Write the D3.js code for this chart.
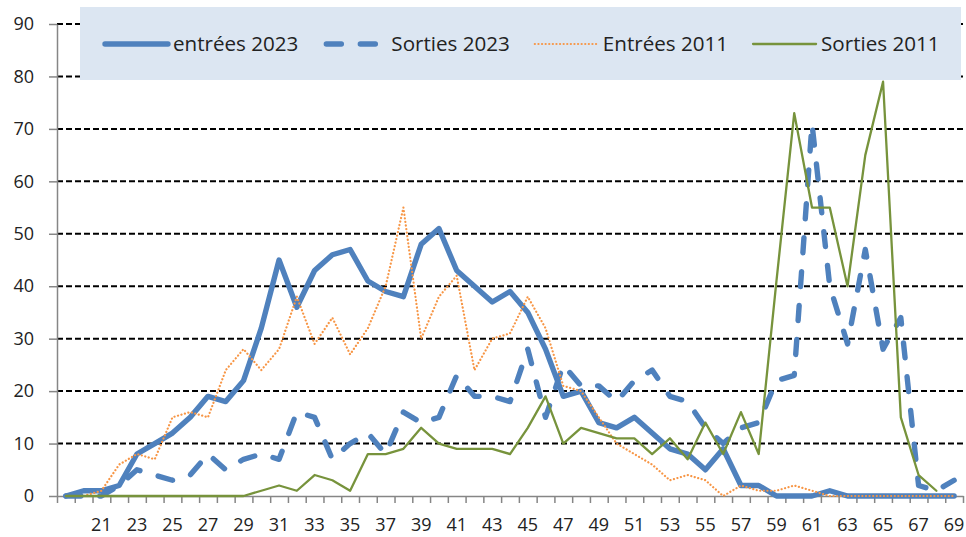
<!DOCTYPE html>
<html><head><meta charset="utf-8">
<script src="https://cdn.jsdelivr.net/npm/d3@7"></script>
<style>
html,body{margin:0;padding:0;background:#fff;}
svg{display:block;}
text{font-family:"Open Sans",sans-serif;fill:#222;}
</style></head>
<body>
<svg id="chart" width="966" height="537"></svg>
<script>
const ages = [19,20,21,22,23,24,25,26,27,28,29,30,31,32,33,34,35,36,37,38,39,40,41,42,43,44,45,46,47,48,49,50,51,52,53,54,55,56,57,58,59,60,61,62,63,64,65,66,67,68,69];
const xTickLabels = [21,23,25,27,29,31,33,35,37,39,41,43,45,47,49,51,53,55,57,59,61,63,65,67,69];
const yTicks = [0,10,20,30,40,50,60,70,80,90];

const entrees2023 = [0,1,1,2,8,10,12,15,19,18,22,32,45,36,43,46,47,41,39,38,48,51,43,40,37,39,35,28,19,20,14,13,15,12,9,8,5,9,2,2,0,0,0,1,0,0,0,0,0,0,0];
const sorties2023 = [0,0,0,2,5,4,3,4,8,5,7,8,7,16,15,7,10,12,8,16,14,15,23,19,19,18,28,15,25,21,21,18,22,24,19,18,13,10,13,14,22,23,71,40,29,47,28,34,2,1,3];
const entrees2011 = [0,0,1,6,8,7,15,16,15,24,28,24,28,38,29,34,27,32,40,55,30,38,42,24,30,31,38,32,21,20,15,10,8,6,3,4,3,0,2,1,1,2,1,0,0,0,0,0,0,0,0];
const sorties2011 = [0,0,0,0,0,0,0,0,0,0,0,1,2,1,4,3,1,8,8,9,13,10,9,9,9,8,13,19,10,13,12,11,11,8,11,7,14,8,16,8,41,73,55,55,40,65,79,15,4,1,null];

const seriesNames = ["entrées 2023","Sorties 2023","Entrées 2011","Sorties 2011"];
const seriesValues = [entrees2023, sorties2023, entrees2011, sorties2011];
const seriesStyles = [
  {color:"#4f81bd", width:5.4, dash:null, cap:"round"},
  {color:"#4f81bd", width:5.4, dash:"15,19", cap:"round"},
  {color:"#f79646", width:2.2, dash:"0.1,3.5", cap:"round"},
  {color:"#77933c", width:2.3, dash:null, cap:"round"}
];

const svg = d3.select("#chart");
const L = 57, R = 963, T = 24, B = 496;

const x = d3.scaleBand().domain(ages).range([L, R]).paddingInner(0).paddingOuter(0);
const xc = d => x(d) + x.bandwidth()/2;
const xIdx = d3.scaleLinear().domain([0, ages.length]).range([L, R]);
const y = d3.scaleLinear().domain([0, 90]).range([B, T]);

// gridlines
svg.append("g").selectAll("line").data(yTicks.filter(v => v > 0)).join("line")
  .attr("x1", L).attr("x2", R).attr("y1", d => y(d)).attr("y2", d => y(d))
  .attr("stroke", "#000").attr("stroke-width", 2).attr("stroke-dasharray", "6,3");

// y axis
const yAxis = svg.append("g").attr("transform", `translate(${L},0)`)
  .call(d3.axisLeft(y).tickValues(yTicks).tickSize(8).tickPadding(15).tickSizeOuter(0));
yAxis.select(".domain").attr("stroke", "#868686").attr("stroke-width", 1.5);
yAxis.selectAll(".tick line").attr("stroke", "#868686").attr("stroke-width", 1.5);
yAxis.selectAll("text").attr("font-size", 18).attr("fill", "#222").attr("font-family", "Open Sans");

// x axis boundary ticks
const xAxisT = svg.append("g").attr("transform", `translate(0,${B})`)
  .call(d3.axisBottom(xIdx).tickValues(d3.range(ages.length + 1)).tickFormat("").tickSize(7).tickSizeOuter(0));
xAxisT.select(".domain").attr("stroke", "#868686").attr("stroke-width", 1.5);
xAxisT.selectAll(".tick line").attr("stroke", "#868686").attr("stroke-width", 1.5);

// x labels
const xAxisL = svg.append("g").attr("transform", `translate(0,${B})`)
  .call(d3.axisBottom(x).tickValues(xTickLabels).tickSize(0).tickPadding(22));
xAxisL.select(".domain").remove();
xAxisL.selectAll("text").attr("font-size", 18).attr("fill", "#222").attr("font-family", "Open Sans");

// series
const line = d3.line().defined(d => d[1] !== null).x(d => xc(d[0])).y(d => y(d[1]));
seriesValues.forEach((vals, i) => {
  const s = seriesStyles[i];
  const p = svg.append("path")
    .datum(ages.map((a, j) => [a, vals[j]]))
    .attr("d", line)
    .attr("fill", "none")
    .attr("stroke", s.color)
    .attr("stroke-width", s.width)
    .attr("stroke-linejoin", "round")
    .attr("stroke-linecap", s.cap);
  if (s.dash) p.attr("stroke-dasharray", s.dash);
});

// legend
const lg = svg.append("g");
lg.append("rect").attr("x", 80).attr("y", 7).attr("width", 881).attr("height", 73).attr("fill", "#dce6f2");
let cx = 105;
const ly = 44;
seriesNames.forEach((name, i) => {
  const s = seriesStyles[i];
  const l = lg.append("line").attr("x1", cx).attr("x2", cx + 63).attr("y1", ly).attr("y2", ly)
    .attr("stroke", s.color).attr("stroke-width", s.width).attr("stroke-linecap", s.cap);
  if (s.dash) l.attr("stroke-dasharray", s.dash);
  if (i === 1) l.attr("x1", cx + 3).attr("stroke-dasharray", "15,19");
  const t = lg.append("text").attr("x", cx + 68).attr("y", ly).attr("dy", "0.35em")
    .attr("font-size", 20.6).text(name);
  const w = t.node().getComputedTextLength();
  cx = cx + 68 + w + 25;
});
</script>
</body></html>
